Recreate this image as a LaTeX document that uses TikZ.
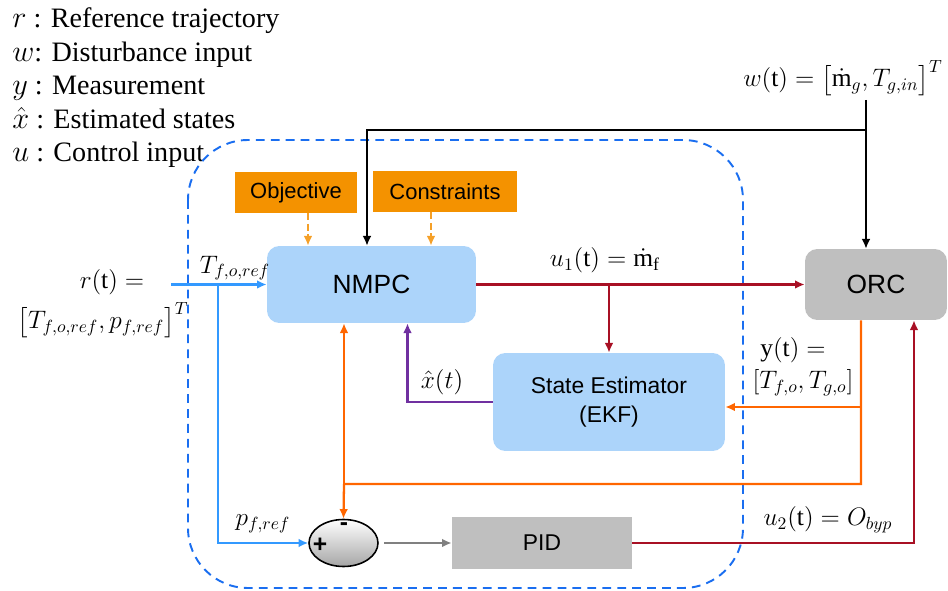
\documentclass[tikz,border=0pt]{standalone}
\usepackage{fontspec}
\usepackage{amsmath}
\setmainfont{Liberation Serif}
\setsansfont{Liberation Sans}
\usetikzlibrary{arrows.meta,shapes.geometric}

\definecolor{boxblue}{RGB}{172,212,250}
\definecolor{boxorange}{RGB}{244,146,0}
\definecolor{boxgrey}{RGB}{191,191,191}
\definecolor{refblue}{RGB}{51,153,255}
\definecolor{frameblue}{RGB}{26,110,240}
\definecolor{ctrlred}{RGB}{168,16,36}
\definecolor{measorange}{RGB}{255,102,0}
\definecolor{estpurple}{RGB}{112,48,160}
\definecolor{objorange}{RGB}{245,160,40}

\tikzset{
    blockblue/.style={rectangle, rounded corners=7pt, fill=boxblue, inner sep=0pt, font=\sffamily\fontsize{15}{18}\selectfont},
    blockgrey/.style={rectangle, fill=boxgrey, inner sep=0pt, font=\sffamily\fontsize{15}{18}\selectfont},
    blockorange/.style={rectangle, fill=boxorange, inner sep=0pt, font=\sffamily\fontsize{12.5}{15}\selectfont},
    sumnode/.style={ellipse, draw=black, line width=0.9pt, top color=white, bottom color=black!35, minimum width=1.38cm, minimum height=0.94cm, inner sep=0pt},
    legtext/.style={anchor=base west, inner sep=0pt, font=\fontsize{16}{19}\selectfont},
    lbl/.style={inner sep=1pt, font=\fontsize{14.5}{17}\selectfont},
    sig/.style={line width=1.3pt, ->},
}

\begin{document}
\begin{tikzpicture}[x=0.02cm, y=-0.02cm, >={Latex[length=5.5pt,width=5pt]}]
    \useasboundingbox (0,0) rectangle (948,591);

    % legend
    \node[legtext] (legr) at (12,28) {$r$ : Reference trajectory};
    \node[legtext] (legw) at (12,62) {$w$: Disturbance input};
    \node[legtext] (legy) at (12,95) {$y$ : Measurement};
    \node[legtext] (legx) at (12,129) {$\hat{x}$ : Estimated states};
    \node[legtext] (legu) at (12,162) {$u$ : Control input};

    % controller frame
    \draw[frameblue, line width=1.1pt, dash pattern=on 5pt off 3.5pt, rounded corners=1.2cm] (188,140) rectangle (743,588);

    % blocks
    \node[blockblue, minimum width=4.18cm, minimum height=1.54cm] (nmpc) at (371.5,284.5) {NMPC};
    \node[blockblue, minimum width=4.64cm, minimum height=1.96cm, align=center, font=\sffamily\fontsize{13}{16.5}\selectfont] (ekf) at (609,402) {State Estimator\\(EKF)};
    \node[blockgrey, rounded corners=7pt, minimum width=2.84cm, minimum height=1.42cm] (orc) at (876,284.5) {ORC};
    \node[blockgrey, minimum width=3.6cm, minimum height=1.06cm, font=\sffamily\fontsize{13}{16}\selectfont] (pid) at (542,543) {PID};
    \node[blockorange, minimum width=2.44cm, minimum height=0.82cm] (obj) at (296,192.5) {Objective};
    \node[blockorange, minimum width=2.88cm, minimum height=0.82cm] (cons) at (445,191.5) {Constraints};
    \node[sumnode] (sum) at (343.5,543) {};
    \node[font=\sffamily\bfseries\fontsize{14}{16}\selectfont, inner sep=0pt] (plus) at (320,545) {+};
    \node[font=\sffamily\bfseries\fontsize{14}{16}\selectfont, inner sep=0pt] (minus) at (344,527) {-};

    % disturbance input
    \coordinate (wsrc) at (866,100);
    \coordinate (wbend) at (866,130);
    \draw[sig, line width=1pt] (wsrc) -- (wsrc |- orc.north);
    \draw[sig, line width=1pt] (wbend) -| ([xshift=-0.09cm]nmpc.north);

    % objective and constraints
    \draw[sig, objorange, dash pattern=on 4pt off 2pt] ([xshift=0.24cm]obj.south) -- ([xshift=0.24cm]obj.south |- nmpc.north);
    \draw[sig, objorange, dash pattern=on 4pt off 2pt] ([xshift=-0.28cm]cons.south) -- ([xshift=-0.28cm]cons.south |- nmpc.north);

    % reference
    \coordinate (rin) at (171,284.5);
    \coordinate (rtap) at (218,284.5);
    \draw[sig, refblue] (rin) -- (nmpc.west);
    \draw[sig, refblue] (rtap) |- (sum.west);

    % control input u1
    \draw[sig, ctrlred] (nmpc.east) -- (orc.west);
    \draw[sig, ctrlred] (ekf.north |- nmpc.east) -- (ekf.north);

    % estimated states
    \draw[sig, estpurple] (ekf.west) -| ([xshift=0.72cm]nmpc.south);

    % measurement
    \coordinate (ycorner) at (861,484);
    \coordinate (yjoin) at (344,484);
    \coordinate (ytap) at (861,407);
    \draw[line width=1.3pt, measorange] ([xshift=-0.3cm]orc.south) -- (ycorner) -- (yjoin);
    \draw[sig, measorange] (yjoin) -- (yjoin |- nmpc.south);
    \draw[sig, measorange] (yjoin) -- (sum.north);
    \draw[sig, measorange] (ytap) -- (ytap -| ekf.east);

    % control input u2
    \draw[sig, gray] ([xshift=3pt]sum.east) -- (pid.west);
    \draw[sig, ctrlred] (pid.east) -| ([xshift=0.76cm]orc.south);

    % signal labels
    \node[lbl] (wlbl) at (843,78) {$w(\mathrm{t}) = \big[\dot{\mathrm{m}}_g, T_{g,in}\big]^T$};
    \node[lbl] (rlbl) at (112,282) {$r(\mathrm{t}) =$};
    \node[lbl] (rvec) at (103,320) {$\big[T_{f,o,ref}, p_{f,ref}\big]^T$};
    \node[lbl] (tlbl) at (235,268) {$T_{f,o,ref}$};
    \node[lbl] (plbl) at (263,524) {$p_{f,ref}$};
    \node[lbl] (u1lbl) at (605,260) {$u_1(\mathrm{t}) = \dot{\mathrm{m}}_{\mathrm{f}}$};
    \node[lbl] (ylbl) at (793,350) {$\mathrm{y}(\mathrm{t}) =$};
    \node[lbl] (yvec) at (803,383) {$[T_{f,o}, T_{g,o}]$};
    \node[lbl] (u2lbl) at (828,520) {$u_2(\mathrm{t}) = O_{byp}$};
    \node[lbl] (xlbl) at (442,382) {$\hat{x}(t)$};
\end{tikzpicture}
\end{document}
